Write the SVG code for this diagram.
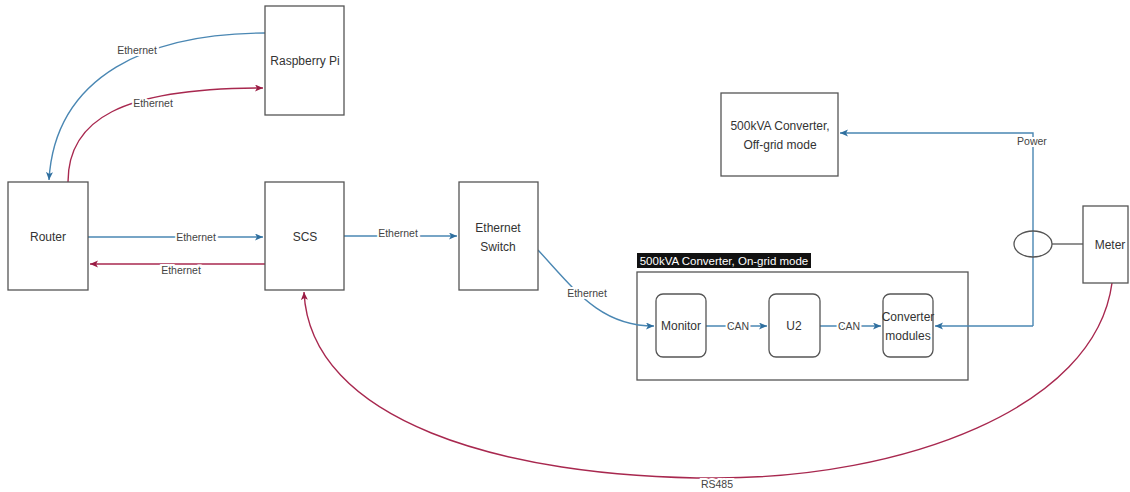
<svg xmlns="http://www.w3.org/2000/svg" width="1130" height="492" viewBox="0 0 1130 492">
<style>
.box{fill:#fff;stroke:#555;stroke-width:1.3}
.t{font-family:"Liberation Sans",Arial,sans-serif;font-size:12px;fill:#333;text-anchor:middle;dominant-baseline:central}
.lbl{font-family:"Liberation Sans",Arial,sans-serif;font-size:10.5px;fill:#444;text-anchor:middle;dominant-baseline:central;stroke:#fff;stroke-width:4;paint-order:stroke}
.b{fill:none;stroke:#4a87b3;stroke-width:1.4}
.r{fill:none;stroke:#a8284f;stroke-width:1.4}
.g{fill:none;stroke:#555;stroke-width:1.3}
</style>
<defs>
<marker id="ab" markerUnits="userSpaceOnUse" markerWidth="10" markerHeight="10" refX="8" refY="3.5" orient="auto"><path d="M0,0 L8,3.5 L0,7 L2,3.5 z" fill="#2f6f9f"/></marker>
<marker id="ar" markerUnits="userSpaceOnUse" markerWidth="10" markerHeight="10" refX="8" refY="3.5" orient="auto"><path d="M0,0 L8,3.5 L0,7 L2,3.5 z" fill="#9a1c44"/></marker>
</defs>

<g id="container-ongrid">
<rect x="637" y="272" width="331" height="108" class="box"/>
<rect x="637" y="253" width="174" height="15" fill="#111"/>
<text x="724" y="260.5" class="t" style="fill:#fff;font-size:11.5px">500kVA Converter, On-grid mode</text>
</g>

<g id="connectors">
<path class="b" d="M265,33 C150,33 55,75 49,180" marker-end="url(#ab)"/>
<path class="r" d="M68,182 C68,120 120,88 263,88" marker-end="url(#ar)"/>
<path class="b" d="M88,237 L263,237" marker-end="url(#ab)"/>
<path class="r" d="M265,264 L90,264" marker-end="url(#ar)"/>
<path class="b" d="M344,236 L457,236" marker-end="url(#ab)"/>
<path class="b" d="M538,250 C575,290 600,326 654,326" marker-end="url(#ab)"/>
<path class="b" d="M706,326 L767,326" marker-end="url(#ab)"/>
<path class="b" d="M820,326 L881,326" marker-end="url(#ab)"/>
<path class="b" d="M1033,326 L1033,133 L840,133" marker-end="url(#ab)"/>
<path class="b" d="M1033,326 L935,326" marker-end="url(#ab)"/>
<ellipse cx="1033" cy="244" rx="19" ry="13" class="g"/>
<path class="g" d="M1052,244 L1083,244"/>
<path class="r" d="M1112,283 C1095,410 900,478 717,478 C500,478 310,420 304,292" marker-end="url(#ar)"/>
<text x="137" y="50" class="lbl">Ethernet</text>
<text x="153" y="103" class="lbl">Ethernet</text>
<text x="196" y="237" class="lbl">Ethernet</text>
<text x="181" y="270" class="lbl">Ethernet</text>
<text x="398" y="233" class="lbl">Ethernet</text>
<text x="587" y="293" class="lbl">Ethernet</text>
<text x="738" y="326" class="lbl">CAN</text>
<text x="849" y="326" class="lbl">CAN</text>
<text x="1032" y="141" class="lbl">Power</text>
<text x="717" y="484" class="lbl">RS485</text>
</g>

<g id="raspberry-pi"><rect x="265" y="6" width="79" height="109" class="box"/><text x="305" y="61" class="t">Raspberry Pi</text></g>
<g id="router"><rect x="8" y="182" width="80" height="108" class="box"/><text x="48" y="237" class="t">Router</text></g>
<g id="scs"><rect x="265" y="182" width="79" height="108" class="box"/><text x="305" y="237" class="t">SCS</text></g>
<g id="ethernet-switch"><rect x="459" y="182" width="79" height="108" class="box"/><text x="498" y="228" class="t">Ethernet</text><text x="498" y="247" class="t">Switch</text></g>
<g id="offgrid"><rect x="721" y="93" width="117" height="83" class="box"/><text x="780" y="126" class="t">500kVA Converter,</text><text x="780" y="145" class="t">Off-grid mode</text></g>
<g id="meter"><rect x="1083" y="206" width="45" height="77" class="box"/><text x="1110" y="245" class="t">Meter</text></g>
<g id="monitor"><rect x="656" y="294" width="50" height="63" rx="7" class="box"/><text x="681" y="326" class="t">Monitor</text></g>
<g id="u2"><rect x="769" y="294" width="51" height="63" rx="7" class="box"/><text x="794" y="326" class="t">U2</text></g>
<g id="converter-modules"><rect x="883" y="294" width="50" height="63" rx="7" class="box"/><text x="908" y="317" class="t">Converter</text><text x="908" y="336" class="t">modules</text></g>
</svg>
